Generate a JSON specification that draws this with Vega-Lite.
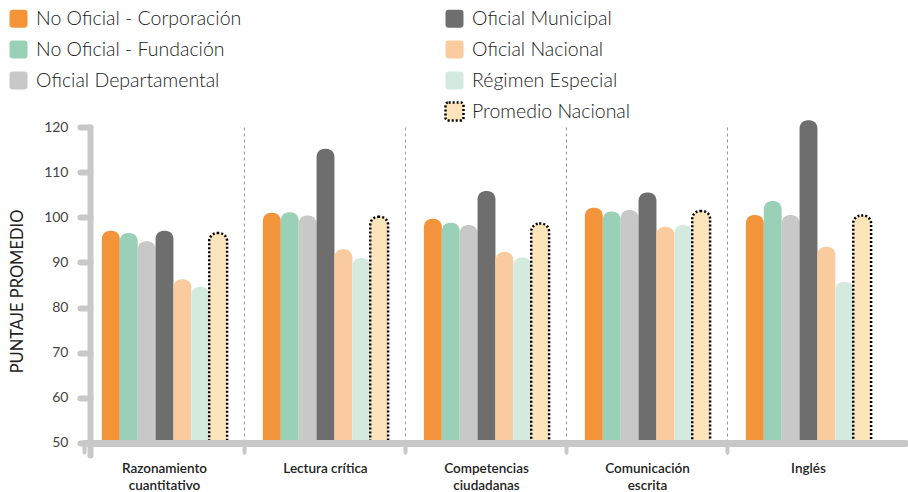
{
  "$schema": "https://vega.github.io/schema/vega-lite/v6.json",
  "autosize": {"type": "none"},
  "padding": {"left": 84, "top": 127, "right": 3, "bottom": 37},
  "width": 821,
  "height": 328,
  "background": "white",
  "config": {"view": {"stroke": null}, "font": "Lato"},
  "data": {"values": [
    {"Prueba": "Razonamiento cuantitativo", "Tipo": "No Oficial - Corporación", "Puntaje": 97.0},
    {"Prueba": "Razonamiento cuantitativo", "Tipo": "No Oficial - Fundación", "Puntaje": 96.5},
    {"Prueba": "Razonamiento cuantitativo", "Tipo": "Oficial Departamental", "Puntaje": 94.7},
    {"Prueba": "Razonamiento cuantitativo", "Tipo": "Oficial Municipal", "Puntaje": 97.0},
    {"Prueba": "Razonamiento cuantitativo", "Tipo": "Oficial Nacional", "Puntaje": 86.3},
    {"Prueba": "Razonamiento cuantitativo", "Tipo": "Régimen Especial", "Puntaje": 84.6},
    {"Prueba": "Razonamiento cuantitativo", "Tipo": "Promedio Nacional", "Puntaje": 96.5},
    {"Prueba": "Lectura crítica", "Tipo": "No Oficial - Corporación", "Puntaje": 101.0},
    {"Prueba": "Lectura crítica", "Tipo": "No Oficial - Fundación", "Puntaje": 101.1},
    {"Prueba": "Lectura crítica", "Tipo": "Oficial Departamental", "Puntaje": 100.4},
    {"Prueba": "Lectura crítica", "Tipo": "Oficial Municipal", "Puntaje": 115.2},
    {"Prueba": "Lectura crítica", "Tipo": "Oficial Nacional", "Puntaje": 92.9},
    {"Prueba": "Lectura crítica", "Tipo": "Régimen Especial", "Puntaje": 91.0},
    {"Prueba": "Lectura crítica", "Tipo": "Promedio Nacional", "Puntaje": 100.1},
    {"Prueba": "Competencias ciudadanas", "Tipo": "No Oficial - Corporación", "Puntaje": 99.7},
    {"Prueba": "Competencias ciudadanas", "Tipo": "No Oficial - Fundación", "Puntaje": 98.8},
    {"Prueba": "Competencias ciudadanas", "Tipo": "Oficial Departamental", "Puntaje": 98.3},
    {"Prueba": "Competencias ciudadanas", "Tipo": "Oficial Municipal", "Puntaje": 105.8},
    {"Prueba": "Competencias ciudadanas", "Tipo": "Oficial Nacional", "Puntaje": 92.3},
    {"Prueba": "Competencias ciudadanas", "Tipo": "Régimen Especial", "Puntaje": 91.1},
    {"Prueba": "Competencias ciudadanas", "Tipo": "Promedio Nacional", "Puntaje": 98.6},
    {"Prueba": "Comunicación escrita", "Tipo": "No Oficial - Corporación", "Puntaje": 102.1},
    {"Prueba": "Comunicación escrita", "Tipo": "No Oficial - Fundación", "Puntaje": 101.3},
    {"Prueba": "Comunicación escrita", "Tipo": "Oficial Departamental", "Puntaje": 101.6},
    {"Prueba": "Comunicación escrita", "Tipo": "Oficial Municipal", "Puntaje": 105.5},
    {"Prueba": "Comunicación escrita", "Tipo": "Oficial Nacional", "Puntaje": 97.9},
    {"Prueba": "Comunicación escrita", "Tipo": "Régimen Especial", "Puntaje": 98.3},
    {"Prueba": "Comunicación escrita", "Tipo": "Promedio Nacional", "Puntaje": 101.4},
    {"Prueba": "Inglés", "Tipo": "No Oficial - Corporación", "Puntaje": 100.5},
    {"Prueba": "Inglés", "Tipo": "No Oficial - Fundación", "Puntaje": 103.6},
    {"Prueba": "Inglés", "Tipo": "Oficial Departamental", "Puntaje": 100.5},
    {"Prueba": "Inglés", "Tipo": "Oficial Municipal", "Puntaje": 121.5},
    {"Prueba": "Inglés", "Tipo": "Oficial Nacional", "Puntaje": 93.5},
    {"Prueba": "Inglés", "Tipo": "Régimen Especial", "Puntaje": 85.7},
    {"Prueba": "Inglés", "Tipo": "Promedio Nacional", "Puntaje": 100.4}
  ]},
  "mark": {"type": "bar", "cornerRadiusTopLeft": 8, "cornerRadiusTopRight": 8, "strokeWidth": 2.5},
  "encoding": {
    "x": {
      "field": "Prueba", "type": "nominal", "sort": null,
      "scale": {"paddingInner": 0, "paddingOuter": 0.0497, "align": 0},
      "axis": {
        "title": null, "orient": "bottom", "offset": -12, "zindex": 1,
        "labelAngle": 0, "bandPosition": 0,
        "labelExpr": "datum.label === 'Lectura crítica' ? datum.label : split(datum.label, ' ')",
        "labelFont": "Lato", "labelFontSize": 13.5, "labelFontWeight": 600, "labelColor": "#222",
        "labelLineHeight": 17, "labelPadding": 9, "labelBaseline": "top",
        "domainColor": "#c8c8c8", "domainWidth": 7, "domainCap": "round",
        "tickColor": "#c8c8c8", "tickWidth": 4, "tickSize": 9, "tickCap": "round",
        "grid": true, "gridColor": "#9a9a9a", "gridDash": [3, 3], "gridWidth": 1,
        "gridOpacity": {"condition": {"test": "datum.value === 'Razonamiento cuantitativo'", "value": 0}, "value": 1}
      }
    },
    "xOffset": {
      "field": "Tipo", "type": "nominal",
      "scale": {"domain": ["No Oficial - Corporación", "No Oficial - Fundación", "Oficial Departamental", "Oficial Municipal", "Oficial Nacional", "Régimen Especial", "Promedio Nacional"], "paddingInner": 0, "paddingOuter": 1.007}
    },
    "y": {
      "field": "Puntaje", "type": "quantitative",
      "scale": {"domain": [47.34, 120], "nice": false, "zero": false},
      "axis": {
        "title": "PUNTAJE PROMEDIO", "titleFont": "Lato", "titleFontSize": 16.5, "titleFontWeight": "normal", "titleColor": "#222", "titlePadding": 18,
        "values": [50, 60, 70, 80, 90, 100, 110, 120], "offset": -6, "grid": false,
        "labelFont": "Lato", "labelFontSize": 14, "labelColor": "#444", "labelPadding": 12,
        "domainColor": "#c8c8c8", "domainWidth": 6, "domainCap": "round",
        "tickColor": "#c8c8c8", "tickWidth": 6, "tickSize": 10, "tickCap": "round"
      }
    },
    "y2": {"datum": 50},
    "color": {
      "field": "Tipo", "type": "nominal",
      "scale": {
        "domain": ["No Oficial - Corporación", "No Oficial - Fundación", "Oficial Departamental", "Oficial Municipal", "Oficial Nacional", "Régimen Especial", "Promedio Nacional", " "],
        "range": ["#F3943A", "#9BD0B8", "#C8C8C8", "#6E6E6E", "#FACB9E", "#D4EADF", "#FDE5BB", "transparent"]
      },
      "legend": {
        "title": null, "orient": "none", "legendX": -76, "legendY": -119,
        "columns": 2, "columnPadding": 198, "rowPadding": 2,
        "values": ["No Oficial - Corporación", "No Oficial - Fundación", "Oficial Departamental", " ", "Oficial Municipal", "Oficial Nacional", "Régimen Especial", "Promedio Nacional"],
        "symbolType": "M-0.65,-1L0.65,-1Q1,-1,1,-0.65L1,0.65Q1,1,0.65,1L-0.65,1Q-1,1,-1,0.65L-1,-0.65Q-1,-1,-0.65,-1Z",
        "symbolSize": 324, "symbolOpacity": 1,
        "labelFont": "Lato", "labelFontSize": 19.5, "labelFontWeight": 300, "labelColor": "#222", "labelOffset": 7, "labelLimit": 400,
        "encoding": {"symbols": {
          "stroke": {"condition": {"test": "datum.value === 'Promedio Nacional'", "value": "#000"}, "value": "transparent"},
          "strokeDash": {"condition": {"test": "datum.value === 'Promedio Nacional'", "value": [2, 2]}, "value": [1, 0]},
          "strokeWidth": {"value": 2.5}
        }}
      }
    },
    "stroke": {"condition": {"test": "datum.Tipo === 'Promedio Nacional'", "value": "#000"}, "value": "transparent"},
    "strokeDash": {"condition": {"test": "datum.Tipo === 'Promedio Nacional'", "value": [2, 2]}, "value": [1, 0]}
  }
}
